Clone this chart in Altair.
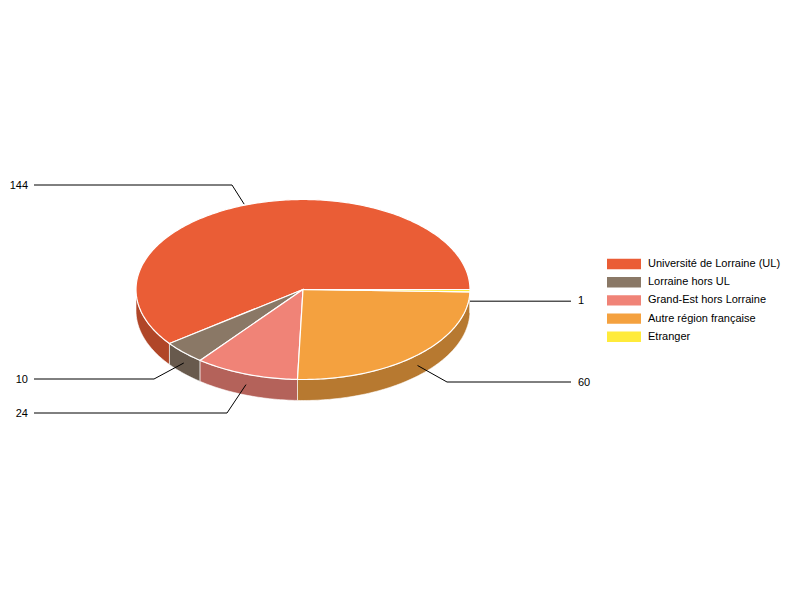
import math
import altair as alt
import pandas as pd

names = ["Université de Lorraine (UL)", "Lorraine hors UL", "Grand-Est hors Lorraine", "Autre région française", "Etranger"]
values = [144, 10, 24, 60, 1]
top_colors = ["#EA5D36", "#8A7866", "#F08377", "#F4A13F", "#FFEB3B"]
side_colors = ["#B04628", "#685A4D", "#B4625A", "#B77930", "#BFB02C"]

# page-pixel layout of the pie
CX, CY, RX, RY, DEPTH = 303, 289.5, 167, 90, 21
total = sum(values)


def on_rim(deg, dy=0):
    a = math.radians(deg)
    return CX + RX * math.cos(a), CY - RY * math.sin(a) + dy


def arc(a0, a1, dy=0):
    n = max(2, int(abs(a1 - a0)) + 2)
    return [on_rim(a0 + (a1 - a0) * k / (n - 1), dy) for k in range(n)]


tops, sides, leaders, labels = [], [], [], []
# leader-line routing: elbow point, free end, label anchor
routes = [
    {"dx": -6, "elbow": (232, 185), "end": (34, 185), "label": (28, 185.5), "align": "right"},
    {"dx": 0, "elbow": (154, 379), "end": (34, 379), "label": (28, 379.5), "align": "right"},
    {"dx": 0, "elbow": (227, 413), "end": (34, 413), "label": (28, 413.5), "align": "right"},
    {"dx": 0, "elbow": (447, 382), "end": (571, 382), "label": (578, 382.5), "align": "left"},
    {"dx": 0, "elbow": None, "end": (571, None), "label": (578, 301), "align": "left"},
]
start = 0.0
for name, val, dark, route in zip(names, values, side_colors, routes):
    end = start + val / total * 360
    # top wedge
    pts = [(CX, CY)] + arc(start, end)
    for i, (x, y) in enumerate(pts):
        tops.append({"slice": name, "i": i, "x": x, "y": y})
    # visible outer wall (lower half of the rim only)
    lo, hi = max(start, 180), min(end, 360)
    if hi > lo:
        wall = arc(lo, hi) + arc(hi, lo, DEPTH)
        for i, (x, y) in enumerate(wall):
            sides.append({"slice": name + " (côté)", "i": i, "x": x, "y": y})
    # leader line
    mid = (start + end) / 2
    ax, ay = on_rim(mid, DEPTH / 2 if math.sin(math.radians(mid)) < 0 else 0)
    path = [(ax + route["dx"], ay)]
    if route["elbow"]:
        path.append(route["elbow"])
    ex, ey = route["end"]
    path.append((ex, ay if ey is None else ey))
    for i, (x, y) in enumerate(path):
        leaders.append({"slice": name, "i": i, "x": x, "y": y})
    labels.append({"text": str(val), "x": route["label"][0], "y": route["label"][1], "align": route["align"]})
    start = end

W, H = 784, 584
xs = alt.Scale(domain=[8, 8 + W], range=[0, W], nice=False, zero=False)
ys = alt.Scale(domain=[8, 8 + H], range=[0, H], nice=False, zero=False)
X = alt.X("x:Q", scale=xs, axis=None)
Y = alt.Y("y:Q", scale=ys, axis=None)

fill_scale = alt.Scale(domain=names + [n + " (côté)" for n in names], range=top_colors + side_colors)
legend = alt.Legend(
    title=None, values=names, orient="none", legendX=610.5, legendY=250.5,
    symbolType="M-3.09,-0.95H3.09V0.95H-3.09Z", symbolSize=121, symbolStrokeWidth=0,
    symbolOpacity=1, labelFont="Liberation Sans", labelFontSize=11, labelColor="#000000",
    labelOffset=18.5, rowPadding=6.2, padding=0,
)
fill = alt.Fill("slice:N", scale=fill_scale, legend=legend, sort=None)

side_layer = alt.Chart(pd.DataFrame(sides)).mark_line(
    interpolate="linear-closed", stroke="white", strokeWidth=0.6, clip=False
).encode(x=X, y=Y, fill=fill, order="i:Q")
top_layer = alt.Chart(pd.DataFrame(tops)).mark_line(
    interpolate="linear-closed", stroke="white", strokeWidth=1.2
).encode(x=X, y=Y, fill=fill, order="i:Q")
leader_layer = alt.Chart(pd.DataFrame(leaders)).mark_line(
    color="#000000", strokeWidth=1
).encode(x=X, y=Y, detail="slice:N", order="i:Q")
text_base = alt.Chart(pd.DataFrame(labels))
text_layers = [
    text_base.transform_filter(alt.datum.align == a).mark_text(
        align=a, baseline="middle", font="Liberation Sans", fontSize=11, color="#000000"
    ).encode(x=X, y=Y, text="text:N")
    for a in ["left", "right"]
]

chart = alt.layer(side_layer, top_layer, leader_layer, *text_layers).properties(
    width=W, height=H, padding=0, autosize=alt.AutoSizeParams(type="none")
).configure_view(stroke=None)
chart.save("out.html", embed_options={"renderer": "svg", "actions": False})
